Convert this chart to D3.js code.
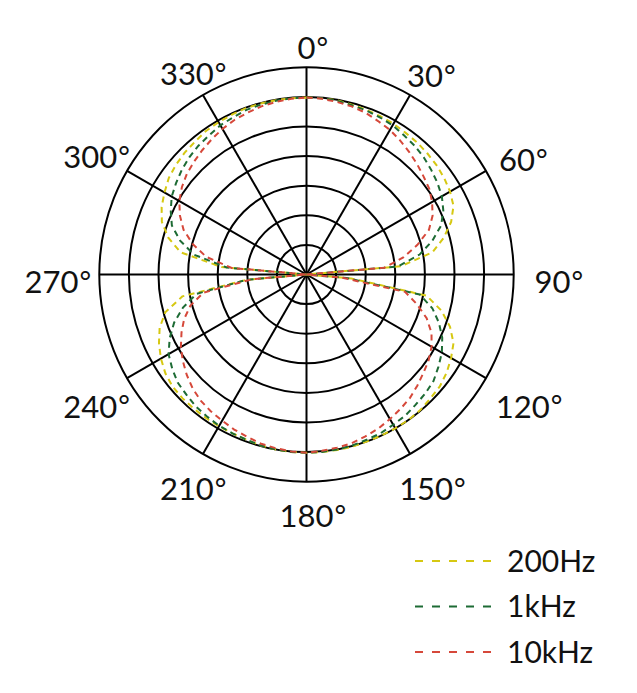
<!DOCTYPE html>
<html>
<head>
<meta charset="utf-8">
<script src="https://cdn.jsdelivr.net/npm/d3@7"></script>
<style>
  html, body { margin: 0; padding: 0; background: #fff; }
  svg { display: block; }
  text { font-family: Lato, "Open Sans", sans-serif; font-weight: 400; fill: #111; }
</style>
</head>
<body>
<svg id="chart" width="637" height="693"></svg>
<script>
// angles in degrees, 0 at top, clockwise, every 5 deg
const angles = d3.range(0, 360, 5);

// level in dB (−32 = below the centre of the plot)
const level200Hz = [
  -0.1, -0.1, -0.1, -0.3, -0.4, -0.5, -0.6, -0.8, -0.9, -1.1, -1.3, -1.6, -2.0, -2.6, -4.0, -6.0, -8.4, -14.0,
  -32, -22.4, -9.4, -6.4, -4.2, -2.6, -1.8, -1.1, -0.6, -0.4, -0.1, 0, 0, 0, 0, 0.1, 0.1, 0.1,
  0.1, 0.1, 0, -0.1, -0.3, -0.4, -0.4, -0.4, -0.4, -0.4, -0.5, -0.9, -1.6, -2.5, -3.6, -5.3, -8.7, -19.9,
  -32, -15.6, -8.4, -5.8, -4.0, -3.0, -2.3, -1.6, -1.2, -0.9, -0.7, -0.4, -0.3, -0.2, -0.1, -0.1, -0.1, -0.1
];
const level1kHz = [
  -0.1, -0.1, -0.2, -0.4, -0.5, -0.7, -0.9, -1.3, -1.6, -2.0, -2.5, -3.0, -3.6, -4.5, -5.8, -8.0, -10.6, -14.5,
  -32, -23.2, -10.6, -8.0, -6.2, -4.7, -3.6, -2.8, -2.0, -1.6, -1.3, -0.9, -0.7, -0.4, -0.3, -0.1, 0, 0.1,
  0.1, 0.1, 0, -0.1, -0.3, -0.4, -0.5, -0.7, -0.9, -1.3, -1.6, -2.3, -3.1, -4.5, -6.2, -8.4, -11.1, -19.9,
  -32, -16.5, -10.7, -7.9, -5.8, -4.7, -3.7, -3.1, -2.5, -2.0, -1.6, -1.3, -0.9, -0.7, -0.4, -0.3, -0.2, -0.1
];
const level10kHz = [
  -0.1, -0.2, -0.4, -0.6, -0.9, -1.4, -1.8, -2.4, -3.0, -3.6, -4.2, -4.7, -5.5, -6.5, -8.0, -10.6, -13.4, -16.8,
  -32, -24.1, -13.1, -10.7, -8.4, -6.7, -5.6, -4.8, -4.2, -3.5, -2.8, -2.3, -1.8, -1.3, -0.9, -0.5, -0.3, -0.1,
  0.1, 0, -0.2, -0.4, -0.8, -1.1, -1.5, -1.8, -2.2, -2.8, -3.6, -4.5, -5.5, -6.7, -8.0, -9.7, -12.3, -20.7,
  -32, -17.3, -12.8, -10.1, -7.9, -6.4, -5.2, -4.3, -3.6, -3.1, -2.6, -2.1, -1.6, -1.2, -0.9, -0.6, -0.4, -0.2
];

const seriesNames = ["200Hz", "1kHz", "10kHz"];
const seriesColors = ["#d6c812", "#1d6b34", "#d6483a"];
const seriesLevels = [level200Hz, level1kHz, level10kHz];

const ringLevels = [-25, -20, -15, -10, -5, 0, 5];
const spokeAngles = d3.range(0, 360, 30);

const cx = 306.5, cy = 274.5, R = 207.2;

const svg = d3.select("#chart");
svg.append("rect").attr("width", 637).attr("height", 693).attr("fill", "#fff");

const r = d3.scaleLinear().domain([-30, 5]).range([0, R]).clamp(true);
const rad = d => d * Math.PI / 180;

const g = svg.append("g").attr("transform", `translate(${cx},${cy})`);

// grid
g.selectAll(".ring")
  .data(ringLevels)
  .enter().append("circle")
  .attr("r", d => r(d))
  .attr("fill", "none")
  .attr("stroke", "#000")
  .attr("stroke-width", 2);

g.selectAll(".spoke")
  .data(spokeAngles)
  .enter().append("line")
  .attr("x1", 0).attr("y1", 0)
  .attr("x2", d => R * Math.sin(rad(d)))
  .attr("y2", d => -R * Math.cos(rad(d)))
  .attr("stroke", "#000")
  .attr("stroke-width", 2);

// patterns
const line = d3.lineRadial()
  .angle(d => rad(d[0]))
  .radius(d => r(d[1]))
  .curve(d3.curveLinearClosed);

seriesLevels.forEach((levels, i) => {
  g.append("path")
    .datum(angles.map((a, k) => [a, levels[k]]))
    .attr("fill", "none")
    .attr("stroke", seriesColors[i])
    .attr("stroke-width", 2)
    .attr("stroke-dasharray", "6,4.5")
    .attr("d", line);
});

// angle labels
spokeAngles.forEach(a => {
  const t = rad(a);
  const label = g.append("text")
    .attr("font-size", 31)
    .attr("text-anchor", "middle")
    .attr("dy", "0.36em")
    .text(a);
  const w = label.node().getComputedTextLength();
  const rr = 234 + (w / 2 - 6) * Math.sin(t) * Math.sin(t);
  const x = rr * Math.sin(t), y = -rr * Math.cos(t) + 7;
  label.attr("x", x).attr("y", y);
  g.append("text")
    .attr("font-size", 28)
    .attr("x", x + w / 2 + 1)
    .attr("y", y)
    .attr("dy", "0.36em")
    .text("°");
});

// legend
const legend = svg.append("g").attr("transform", "translate(415,561)");
seriesNames.forEach((name, i) => {
  const row = legend.append("g").attr("transform", `translate(0,${i * 45.5})`);
  row.append("line")
    .attr("x1", 0).attr("x2", 76)
    .attr("stroke", seriesColors[i])
    .attr("stroke-width", 2)
    .attr("stroke-dasharray", "8,9");
  row.append("text")
    .attr("x", 92)
    .attr("dy", "0.36em")
    .attr("font-size", 30)
    .text(name);
});
</script>
</body>
</html>
